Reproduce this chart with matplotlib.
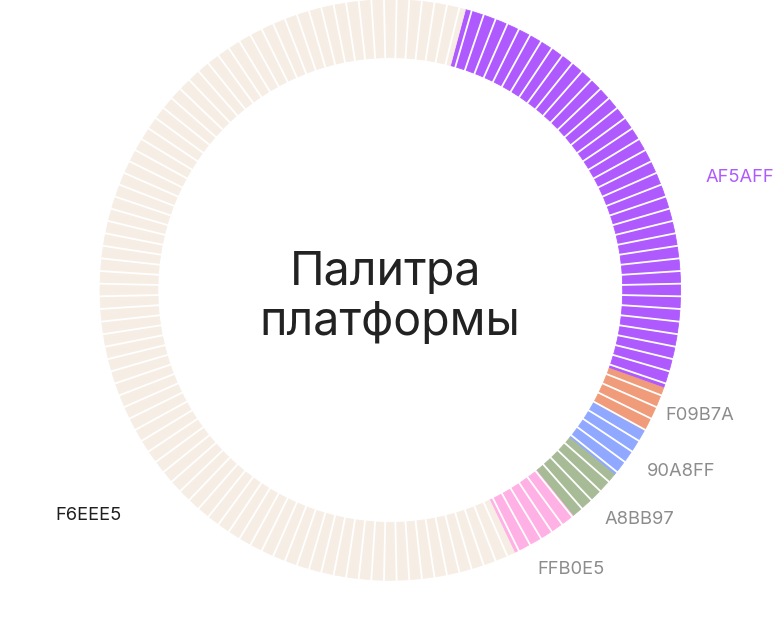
import numpy as np
import matplotlib
matplotlib.use("Agg")
import matplotlib.pyplot as plt
from matplotlib.collections import LineCollection

plt.rcParams["font.family"] = ["Inter", "DejaVu Sans"]

# palette shares, clockwise from the purple block
names = ["AF5AFF", "F09B7A", "90A8FF", "A8BB97", "FFB0E5", "F6EEE5"]
shares = [26.3, 2.6, 2.9, 3.2, 3.8, 61.2]
colors = ["#AF5AFF", "#F09B7A", "#90A8FF", "#A8BB97", "#FFB0E5", "#F6EEE5"]
label_colors = ["#AF5AFF", "#8C8C8C", "#8C8C8C", "#8C8C8C", "#8C8C8C", "#1E1E1E"]
# label anchor (left x, centre y) in pixels from the top-left corner
label_x = [706, 665, 647, 605, 537, 55]
label_y = [177, 415, 472, 520, 570, 516]
title_lines = ["Палитра", "платформы"]

W, H = 775, 624
CX, CY = 390.3, 290.0
R_OUT, R_IN = 290.3, 232.4
N_TICKS = 144


def fy(y):
    return H - y


fig = plt.figure(figsize=(W / 100, H / 100), dpi=100)
ax = fig.add_axes([0, 0, 1, 1])

wedges, _ = ax.pie(
    shares,
    colors=colors,
    startangle=90 - 15,
    counterclock=False,
    radius=R_OUT,
    center=(CX, fy(CY)),
    wedgeprops=dict(width=R_OUT - R_IN, linewidth=0.6),
)
for w, c in zip(wedges, colors):
    w.set_edgecolor(c)

# evenly spaced white separators across the whole ring
step = 360 / N_TICKS
ang = np.deg2rad(90 - (step / 2 + step * np.arange(N_TICKS)))
segs = [
    [(CX + (R_IN - 2) * np.cos(a), fy(CY) + (R_IN - 2) * np.sin(a)),
     (CX + (R_OUT + 2) * np.cos(a), fy(CY) + (R_OUT + 2) * np.sin(a))]
    for a in ang
]
ax.add_collection(LineCollection(segs, colors="white", linewidths=1.3, zorder=3))

for name, x, y, c in zip(names, label_x, label_y, label_colors):
    ax.text(x, fy(y), name, color=c, fontsize=13.2, ha="left", va="center")

ax.text(CX - 5, fy(285), title_lines[0], fontsize=33.5, color="#222222",
        ha="center", va="baseline")
ax.text(CX, fy(335), title_lines[1], fontsize=33.5, color="#222222",
        ha="center", va="baseline")

ax.set_xlim(0, W)
ax.set_ylim(0, H)
ax.set_aspect("auto")
ax.axis("off")

fig.savefig("out.png", dpi=100, facecolor="white")
